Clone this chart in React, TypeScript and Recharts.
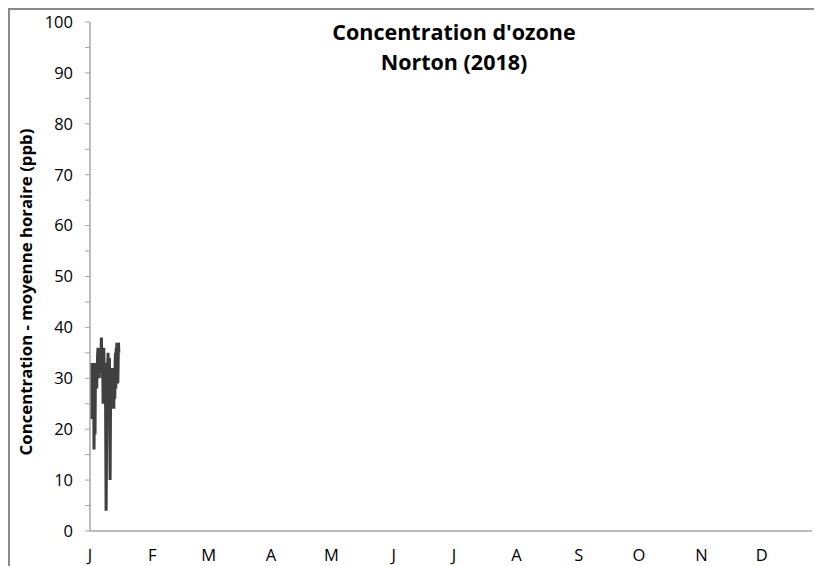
import React from 'react';
import { LineChart, Line, XAxis, YAxis } from 'recharts';

const monthLabels = ['J', 'F', 'M', 'A', 'M', 'J', 'J', 'A', 'S', 'O', 'N', 'D'];
const monthStartDays = [0, 31, 59, 90, 120, 151, 181, 212, 243, 273, 304, 334];
const yTicks = [0, 5, 10, 15, 20, 25, 30, 35, 40, 45, 50, 55, 60, 65, 70, 75, 80, 85, 90, 95, 100];
const stepHours = 4;
// Ozone hourly-average readings sampled every 4 h, from 1 January 2018
const ozone = [
  33, 27, 22, 31, 33, 29,
  24, 33, 30, 22, 33, 31,
  16, 26, 33, 19, 29, 33,
  30, 33, 28, 32, 33, 35,
  36, 32, 34, 30, 33, 35,
  32, 34, 31, 35, 38, 34,
  36, 30, 34, 25, 32, 36,
  33, 28, 31, 25, 33, 18,
  4, 12, 26, 30, 25, 33,
  35, 28, 33, 26, 34, 18,
  10, 22, 30, 32, 27, 31,
  24, 30, 32, 26, 31, 24,
  29, 32, 26, 33, 35, 28,
  36, 30, 37, 31, 34, 29,
  33, 37, 35,
];

const data = ozone.map((v, i) => ({ day: (i * stepHours) / 24, ozone: v }));

const font = '"Open Sans", "Noto Sans", sans-serif';
const axisGray = '#a6a6a6';

export default function App() {
  return (
    <div
      style={{
        position: 'relative',
        width: 814,
        height: 558,
        boxSizing: 'border-box',
        borderTop: '2px solid #8a8a8a',
        borderLeft: '2px solid #8a8a8a',
        fontFamily: font,
      }}
    >
      <LineChart
        width={812}
        height={556}
        data={data}
        margin={{ top: 12, right: 10, bottom: 0, left: 0 }}
      >
        <XAxis
          dataKey="day"
          type="number"
          domain={[0, 359]}
          ticks={monthStartDays}
          tickFormatter={(v: number) => monthLabels[monthStartDays.indexOf(v)] ?? ''}
          tickLine={false}
          tickSize={0}
          tickMargin={18}
          height={35}
          axisLine={{ stroke: axisGray, strokeWidth: 1.5 }}
          tick={{ fill: '#000', fontSize: 16.5, fontFamily: font }}
          interval={0}
          allowDataOverflow
        />
        <YAxis
          type="number"
          domain={[0, 100]}
          ticks={yTicks}
          interval={0}
          tickFormatter={(v: number) => (v % 10 === 0 ? String(v) : '')}
          width={80}
          tickSize={5}
          tickMargin={12}
          tickLine={{ stroke: axisGray }}
          axisLine={{ stroke: axisGray, strokeWidth: 1.5 }}
          tick={{ fill: '#000', fontSize: 16.5, fontFamily: font }}
        />
        <Line
          type="linear"
          dataKey="ozone"
          stroke="#404040"
          strokeWidth={3}
          dot={false}
          isAnimationActive={false}
        />
      </LineChart>
      <div
        style={{
          position: 'absolute',
          left: 144,
          top: 7,
          width: 600,
          textAlign: 'center',
          fontWeight: 700,
          fontSize: 21.5,
          lineHeight: '30px',
          color: '#000',
        }}
      >
        <div>Concentration d'ozone</div>
        <div>Norton (2018)</div>
      </div>
      <div
        style={{
          position: 'absolute',
          left: -184,
          top: 270,
          width: 400,
          height: 24,
          lineHeight: '24px',
          textAlign: 'center',
          transform: 'rotate(-90deg)',
          fontWeight: 700,
          fontSize: 16.8,
          color: '#000',
          whiteSpace: 'nowrap',
        }}
      >
        Concentration - moyenne horaire (ppb)
      </div>
    </div>
  );
}
